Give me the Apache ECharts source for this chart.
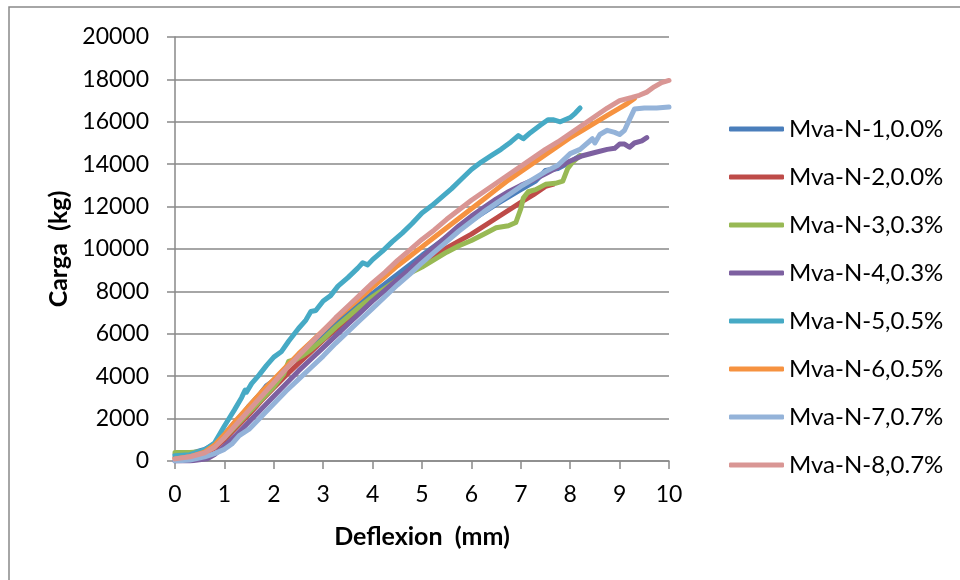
<!DOCTYPE html>
<html>
<head>
<meta charset="utf-8">
<script src="https://cdn.jsdelivr.net/npm/echarts@6/dist/echarts.min.js"></script>
<style>
  html, body { margin: 0; padding: 0; background: #fff; }
  #chart { width: 960px; height: 580px; }
</style>
</head>
<body>
<div id="chart"></div>
<script>
// [deflexion (mm), carga (kg)]
const mva1 = [[0,300],[0.3,350],[0.6,550],[0.8,800],[1.0,1250],[1.2,1800],[1.4,2300],[1.5,2600],[1.7,3100],[1.85,3550],[2.0,3800],[2.25,4400],[2.5,4950],[2.75,5500],[3.0,6000],[3.25,6500],[3.5,7000],[3.75,7450],[4.0,7900],[4.5,8800],[5.0,9700],[5.5,10550],[6.0,11350],[6.5,12100],[7.0,12800],[7.3,13200],[7.5,13700],[7.75,13800],[8.0,14100],[8.2,14400]]
const mva2 = [[0,150],[0.3,200],[0.6,350],[0.8,600],[1.0,1000],[1.25,1600],[1.5,2200],[1.75,2850],[2.0,3450],[2.25,4050],[2.5,4600],[2.75,5150],[3.0,5700],[3.25,6200],[3.5,6700],[3.75,7200],[4.0,7650],[4.5,8550],[5.0,9350],[5.5,10050],[6.0,10700],[6.5,11450],[7.0,12200],[7.25,12550],[7.5,12950],[7.65,13050]]
const mva3 = [[0,400],[0.3,400],[0.6,450],[0.8,700],[1.0,1100],[1.25,1700],[1.5,2300],[1.75,2900],[2.0,3500],[2.2,4100],[2.3,4700],[2.45,4800],[2.6,5000],[2.75,5250],[3.0,5750],[3.25,6300],[3.5,6800],[3.75,7300],[4.0,7750],[4.25,8150],[4.5,8550],[4.75,8850],[5.0,9150],[5.25,9500],[5.5,9850],[5.75,10150],[6.0,10400],[6.25,10700],[6.5,11000],[6.75,11100],[6.9,11250],[7.0,11900],[7.05,12400],[7.15,12700],[7.3,12800],[7.5,13050],[7.7,13100],[7.85,13200],[7.95,13800],[8.05,14100],[8.2,14400]]
const mva4 = [[0,0],[0.3,0],[0.65,100],[0.8,300],[1.0,700],[1.25,1250],[1.5,1850],[1.75,2450],[2.0,3050],[2.25,3650],[2.5,4250],[2.75,4800],[3.0,5350],[3.25,5900],[3.5,6450],[3.75,7000],[4.0,7550],[4.25,8050],[4.5,8550],[4.75,9050],[5.0,9600],[5.25,10100],[5.5,10600],[5.75,11100],[6.0,11550],[6.25,11950],[6.5,12350],[6.75,12700],[7.0,13000],[7.25,13250],[7.5,13550],[7.75,13850],[8.0,14150],[8.25,14400],[8.5,14550],[8.75,14700],[8.9,14750],[9.0,14950],[9.1,14950],[9.2,14800],[9.3,15000],[9.45,15100],[9.55,15250]]
const mva5 = [[0,250],[0.3,300],[0.6,520],[0.8,850],[1.0,1650],[1.2,2400],[1.35,3000],[1.42,3350],[1.45,3250],[1.55,3650],[1.7,4050],[1.85,4500],[2.0,4900],[2.15,5150],[2.3,5650],[2.5,6250],[2.65,6650],[2.75,7050],[2.85,7100],[3.0,7550],[3.15,7800],[3.3,8250],[3.5,8650],[3.7,9100],[3.8,9350],[3.9,9250],[4.0,9500],[4.2,9900],[4.4,10350],[4.6,10750],[4.8,11200],[5.0,11700],[5.2,12050],[5.4,12450],[5.6,12850],[5.8,13300],[6.0,13750],[6.2,14100],[6.4,14400],[6.6,14700],[6.8,15050],[6.95,15350],[7.05,15200],[7.2,15500],[7.4,15850],[7.55,16100],[7.65,16100],[7.8,16000],[8.0,16200],[8.1,16400],[8.2,16650]]
const mva6 = [[0,100],[0.3,200],[0.6,420],[0.8,750],[1.0,1250],[1.25,1950],[1.5,2600],[1.75,3250],[2.0,3850],[2.25,4450],[2.5,5050],[2.75,5600],[3.0,6150],[3.25,6700],[3.5,7200],[3.75,7700],[4.0,8200],[4.25,8700],[4.5,9200],[4.75,9650],[5.0,10100],[5.25,10550],[5.5,11000],[5.75,11450],[6.0,11900],[6.25,12350],[6.5,12800],[6.75,13250],[7.0,13650],[7.25,14050],[7.5,14450],[7.75,14850],[8.0,15250],[8.25,15600],[8.5,15950],[8.75,16300],[9.0,16650],[9.15,16850],[9.3,17100]]
const mva7 = [[0,0],[0.3,50],[0.6,200],[0.8,350],[1.0,550],[1.15,800],[1.3,1200],[1.4,1350],[1.5,1500],[1.75,2100],[2.0,2700],[2.25,3300],[2.5,3850],[2.75,4400],[3.0,4950],[3.25,5550],[3.5,6100],[3.75,6650],[4.0,7200],[4.25,7750],[4.5,8300],[4.75,8800],[5.0,9350],[5.25,9850],[5.5,10350],[5.75,10850],[6.0,11300],[6.25,11750],[6.5,12150],[6.75,12550],[7.0,12950],[7.25,13300],[7.5,13650],[7.75,13950],[8.0,14500],[8.2,14700],[8.35,15000],[8.45,15200],[8.5,15000],[8.6,15400],[8.75,15600],[8.9,15500],[9.0,15400],[9.1,15600],[9.2,16100],[9.3,16600],[9.5,16650],[9.75,16650],[10.0,16700]]
const mva8 = [[0,100],[0.3,200],[0.6,380],[0.8,650],[1.0,1100],[1.25,1750],[1.5,2400],[1.75,3050],[2.0,3700],[2.25,4350],[2.5,4950],[2.75,5550],[3.0,6150],[3.25,6750],[3.5,7300],[3.75,7850],[4.0,8400],[4.25,8900],[4.5,9450],[4.75,9950],[5.0,10450],[5.25,10900],[5.5,11400],[5.75,11850],[6.0,12300],[6.25,12700],[6.5,13100],[6.75,13500],[7.0,13900],[7.25,14300],[7.5,14700],[7.75,15050],[8.0,15450],[8.25,15850],[8.5,16250],[8.75,16650],[9.0,17000],[9.25,17150],[9.4,17250],[9.55,17400],[9.7,17650],[9.85,17850],[10.0,17950]]

const seriesNames = ['Mva-N-1,0.0%', 'Mva-N-2,0.0%', 'Mva-N-3,0.3%', 'Mva-N-4,0.3%', 'Mva-N-5,0.5%', 'Mva-N-6,0.5%', 'Mva-N-7,0.7%', 'Mva-N-8,0.7%']
const seriesData = [mva1, mva2, mva3, mva4, mva5, mva6, mva7, mva8]
const colors = ['#4a7ebb', '#be4b48', '#98b954', '#7d60a0', '#46aac5', '#f69240', '#94b3d9', '#d99694']

const gray = '#898989'
const font = 'Lato, "Open Sans", sans-serif'

const chartInstance = echarts.init(document.getElementById('chart'))
const option = {
  animation: false,
  backgroundColor: '#fff',
  color: colors,
  textStyle: { fontFamily: font },
  graphic: [
    {
      type: 'rect',
      shape: { x: 9, y: 7, width: 1000, height: 1000 },
      style: { fill: 'none', stroke: gray, lineWidth: 1.5 }
    }
  ],
  grid: { left: 175, top: 37, width: 494, height: 424 },
  legend: {
    orient: 'vertical',
    left: 724,
    top: 112,
    icon: 'roundRect',
    itemWidth: 55,
    itemHeight: 5,
    itemGap: 24,
    textStyle: { fontSize: 24, color: '#000', lineHeight: 24, fontFamily: font },
    data: seriesNames
  },
  xAxis: {
    type: 'value',
    min: 0,
    max: 10,
    interval: 1,
    name: 'Deflexion  (mm)',
    nameLocation: 'middle',
    nameGap: 63,
    nameTextStyle: { fontSize: 25, fontWeight: 'bold', color: '#000', fontFamily: font },
    axisLine: { show: true, lineStyle: { color: gray, width: 1.5 } },
    axisTick: { show: true, length: 8, lineStyle: { color: gray, width: 1.5 } },
    axisLabel: { fontSize: 23, color: '#000', margin: 22 },
    splitLine: { show: false }
  },
  yAxis: {
    type: 'value',
    min: 0,
    max: 20000,
    interval: 2000,
    name: 'Carga  (kg)',
    nameLocation: 'middle',
    nameGap: 100,
    nameTextStyle: { fontSize: 25, fontWeight: 'bold', color: '#000', fontFamily: font },
    axisLine: { show: true, lineStyle: { color: gray, width: 1.5 } },
    axisTick: { show: true, length: 8, lineStyle: { color: gray, width: 1.5 } },
    axisLabel: { fontSize: 23, color: '#000', margin: 26, formatter: v => String(v) },
    splitLine: { show: true, lineStyle: { color: gray, width: 1.5 } }
  },
  series: seriesNames.map((name, i) => ({
    name: name,
    type: 'line',
    data: seriesData[i],
    symbol: 'none',
    lineStyle: { width: 5, cap: 'round', join: 'round' }
  }))
}
chartInstance.setOption(option)
</script>
</body>
</html>
